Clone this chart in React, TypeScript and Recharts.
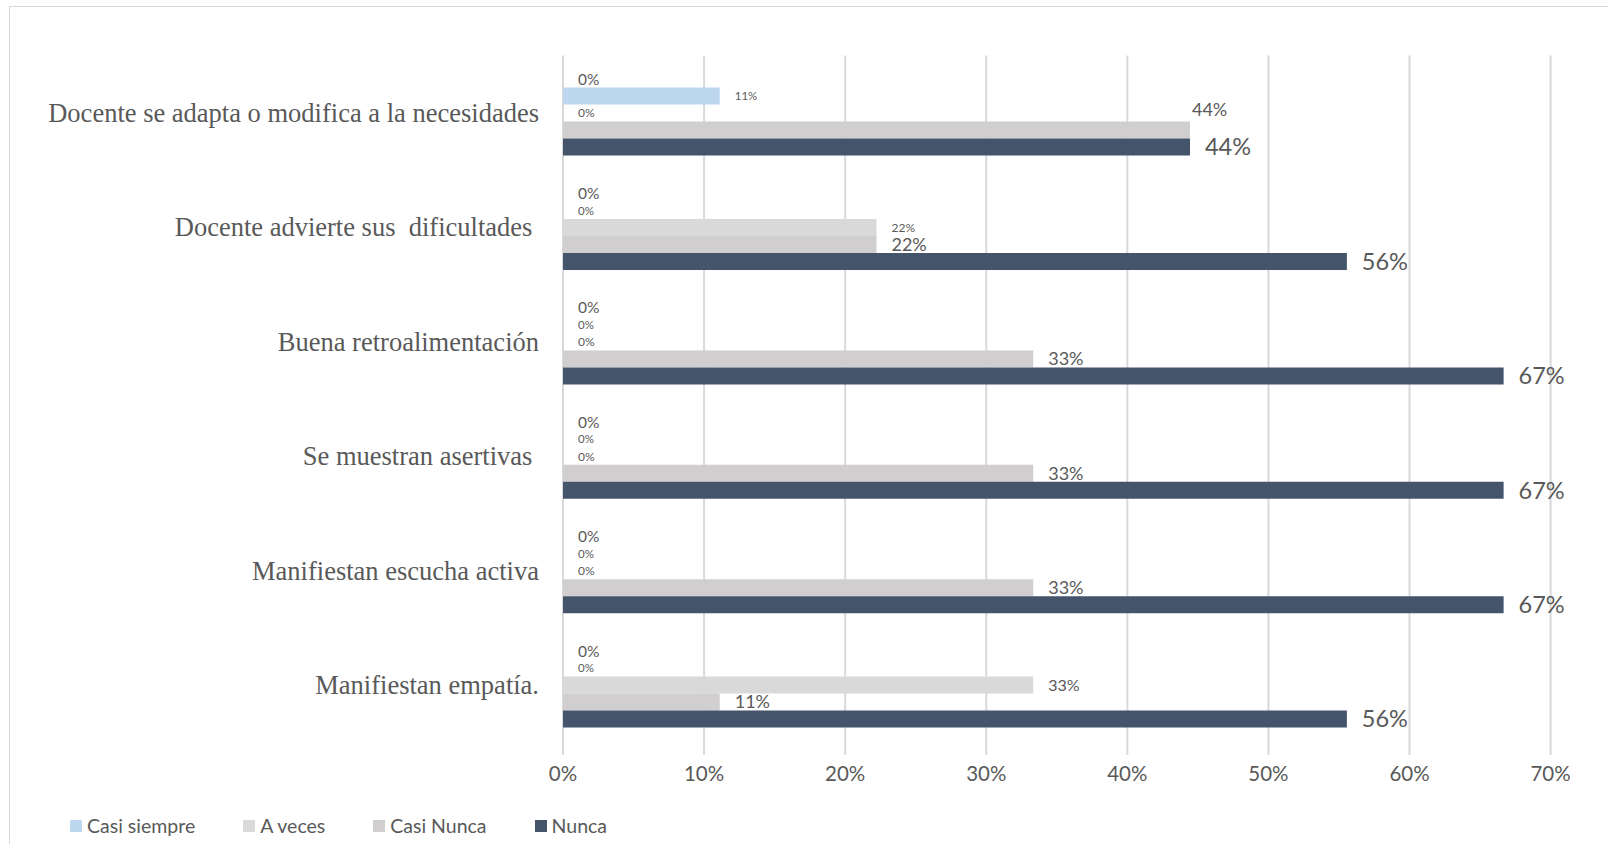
import React from 'react';
import { BarChart, Bar, XAxis, YAxis, CartesianGrid, LabelList } from 'recharts';

// categorias (de arriba hacia abajo)
const categories = [
  'Docente se adapta o modifica a la necesidades',
  'Docente advierte sus  dificultades ',
  'Buena retroalimentación',
  'Se muestran asertivas ',
  'Manifiestan escucha activa',
  'Manifiestan empatía.',
];

// valores por serie (proporción)
const siempre = [0, 0, 0, 0, 0, 0];
const casiSiempre = [0.1111, 0, 0, 0, 0, 0];
const aVeces = [0, 0.2222, 0, 0, 0, 0.3333];
const casiNunca = [0.4444, 0.2222, 0.3333, 0.3333, 0.3333, 0.1111];
const nunca = [0.4444, 0.5556, 0.6667, 0.6667, 0.6667, 0.5556];

const xTicks = [0, 0.1, 0.2, 0.3, 0.4, 0.5, 0.6, 0.7];

const series = [
  { key: 'siempre', name: 'Siempre', values: siempre, color: '#ffffff', legend: false, labelSize: 15.5 },
  { key: 'casiSiempre', name: 'Casi siempre', values: casiSiempre, color: '#bdd7ee', legend: true, labelSize: 11.5 },
  { key: 'aVeces', name: 'A veces', values: aVeces, color: '#d9d9d9', legend: true, labelSize: 12 },
  { key: 'casiNunca', name: 'Casi Nunca', values: casiNunca, color: '#d0cece', legend: true, labelSize: 18 },
  { key: 'nunca', name: 'Nunca', values: nunca, color: '#44546a', legend: true, labelSize: 23.5 },
];

// ajustes puntuales de etiquetas (movidas a mano en el original)
const labelTweaks: Record<string, { dx?: number; dy?: number; size?: number }> = {
  'casiNunca-0': { dx: 2, dy: -20 },
  'aVeces-5': { size: 16 },
};

const data = categories.map((name, i) => {
  const row: any = { name };
  series.forEach((s) => (row[s.key] = s.values[i]));
  return row;
});

const textColor = '#595959';
const sansFont = 'Lato, "Open Sans", sans-serif';
const pct = (v: number) => `${Math.round(v * 100)}%`;

const makeLabel = (key: string, baseSize: number) => (props: any) => {
  const { x, y, width, height, value, index } = props;
  const t = labelTweaks[`${key}-${index}`] || {};
  return (
    <text
      x={Number(x) + Number(width) + (t.dx ?? 15)}
      y={Number(y) + Number(height) / 2 + (t.dy ?? 0)}
      dy="0.35em"
      fontSize={t.size ?? baseSize}
      fontFamily={sansFont}
      fill={textColor}
    >
      {pct(Number(value))}
    </text>
  );
};

const CategoryTick = ({ x, y, payload }: any) => (
  <text
    x={x}
    y={y}
    dy="0.35em"
    textAnchor="end"
    fontSize={26.5}
    fontFamily='"Liberation Serif", "Times New Roman", serif'
    fill={textColor}
    style={{ whiteSpace: 'pre' }}
  >
    {payload.value}
  </text>
);

export default function App() {
  return (
    <div style={{ position: 'fixed', left: 0, top: 0, width: 1608, height: 844, background: '#fff', overflow: 'hidden' }}>
      <div style={{ position: 'absolute', left: 9, top: 6, width: 1640, height: 900, border: '1px solid #d9d9d9' }} />
      <div style={{ position: 'absolute', left: 0, top: 0 }}>
        <BarChart
          width={1608}
          height={844}
          data={data}
          layout="vertical"
          barGap={0}
          barSize={17}
          margin={{ top: 55.6, right: 57.4, bottom: 59, left: 0 }}
        >
          <CartesianGrid horizontal={false} stroke="#d9d9d9" strokeWidth={2} />
          <XAxis
            type="number"
            domain={[0, 0.7]}
            ticks={xTicks}
            tickFormatter={pct}
            axisLine={false}
            tickLine={false}
            tickSize={0}
            tickMargin={11}
            height={30}
            tick={{ fill: textColor, fontSize: 20.5, fontFamily: sansFont }}
          />
          <YAxis
            type="category"
            dataKey="name"
            width={563}
            axisLine={false}
            tickLine={false}
            tickSize={0}
            tickMargin={24}
            padding={{ top: 0, bottom: 13 }}
            tick={<CategoryTick />}
            interval={0}
          />
          {series.map((s) => (
            <Bar
              key={s.key}
              dataKey={s.key}
              name={s.name}
              fill={s.color}
              minPointSize={0.01}
              legendType={s.legend ? 'square' : 'none'}
              isAnimationActive={false}
            >
              <LabelList dataKey={s.key} content={makeLabel(s.key, s.labelSize)} />
            </Bar>
          ))}
        </BarChart>
      </div>
      {/* leyenda */}
      <div
        style={{
          position: 'absolute',
          left: 70,
          top: 814,
          display: 'flex',
          alignItems: 'center',
          fontFamily: sansFont,
          fontSize: 19.5,
          color: textColor,
        }}
      >
        {series
          .filter((s) => s.legend)
          .map((s) => (
            <div key={s.key} style={{ display: 'flex', alignItems: 'center', marginRight: 48 }}>
              <span style={{ width: 12, height: 12, background: s.color, marginRight: 5, display: 'inline-block' }} />
              <span>{s.name}</span>
            </div>
          ))}
      </div>
    </div>
  );
}
